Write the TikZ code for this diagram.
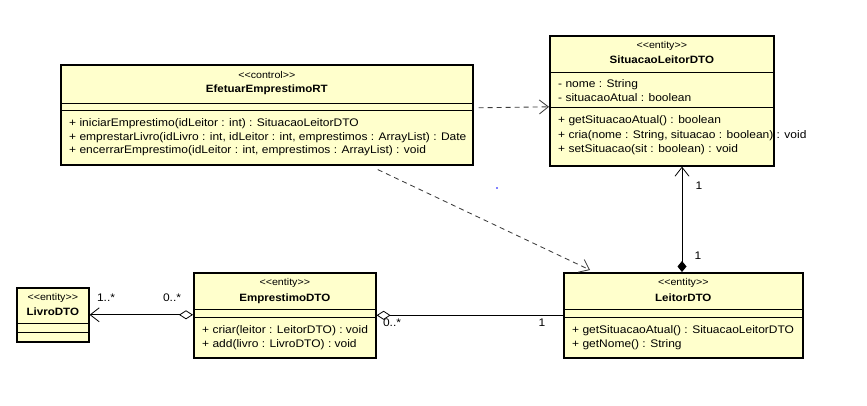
\documentclass[tikz,border=0pt]{standalone}
\usepackage{fontspec}
\setmainfont{Liberation Sans}
\newfontfamily\umlfont[FakeStretch=1.09]{Liberation Sans}
\usetikzlibrary{arrows.meta,calc}
\definecolor{classfill}{RGB}{255,255,204}
\definecolor{linegray}{RGB}{60,60,60}

% horizontal compartment rule inside a class box, #2 pt below its top edge
\newcommand\classrule[2]{\draw[sep] ($(#1.north west)+(0,#2)$) -- ($(#1.north east)+(0,#2)$);}

\begin{document}
\begin{tikzpicture}[x=1pt,y=-1pt,
  classbox/.style={draw=black,line width=1.6pt,fill=classfill,inner sep=0,anchor=north west},
  sep/.style={draw=black,line width=0.9pt},
  stereo/.style={font=\umlfont\fontsize{9.8}{11}\selectfont,inner sep=0,text height=7pt,text depth=2pt},
  cname/.style={font=\umlfont\bfseries\fontsize{10.6}{12}\selectfont,inner sep=0,text height=8pt,text depth=2pt},
  member/.style={font=\umlfont\fontsize{11}{13}\selectfont,inner sep=0,anchor=west,text height=8pt,text depth=2pt},
  mult/.style={font=\umlfont\fontsize{11}{13}\selectfont,inner sep=0,text height=8pt,text depth=2pt},
  dep/.style={draw=linegray,line width=0.85pt,dash pattern=on 5pt off 4pt,-{Straight Barb[length=9pt,width=14pt]}},
  assoc/.style={draw=black,line width=0.8pt},
]
\useasboundingbox (0,0) rectangle (867,406);

% ---------- EfetuarEmprestimoRT ----------
\node[classbox,minimum width=412pt,minimum height=100pt] (efet) at (60,64) {};
\node[stereo] (efetS) at ($(efet.north)+(0,12)$) {<<control>>};
\node[cname] (efetN) at ($(efet.north)+(0,26)$) {EfetuarEmprestimoRT};
\classrule{efet}{39}
\classrule{efet}{46}
\node[member] (efetM1) at ($(efet.north west)+(9,60)$) {+ iniciarEmprestimo(idLeitor : int) : SituacaoLeitorDTO};
\node[member] (efetM2) at ($(efet.north west)+(9,73.5)$) {+ emprestarLivro(idLivro : int, idLeitor : int, emprestimos : ArrayList) : Date};
\node[member] (efetM3) at ($(efet.north west)+(9,87)$) {+ encerrarEmprestimo(idLeitor : int, emprestimos : ArrayList) : void};

% ---------- SituacaoLeitorDTO ----------
\node[classbox,minimum width=224pt,minimum height=130pt] (sit) at (549,35) {};
\node[stereo] (sitS) at ($(sit.north)+(0,11)$) {<<entity>>};
\node[cname] (sitN) at ($(sit.north)+(0,26)$) {SituacaoLeitorDTO};
\classrule{sit}{37}
\node[member] (sitA1) at ($(sit.north west)+(9,50)$) {- nome : String};
\node[member] (sitA2) at ($(sit.north west)+(9,64)$) {- situacaoAtual : boolean};
\classrule{sit}{72}
\node[member] (sitM1) at ($(sit.north west)+(9,86)$) {+ getSituacaoAtual() : boolean};
\node[member] (sitM2) at ($(sit.north west)+(9,100.5)$) {+ cria(nome : String, situacao : boolean) : void};
\node[member] (sitM3) at ($(sit.north west)+(9,115)$) {+ setSituacao(sit : boolean) : void};

% ---------- LivroDTO ----------
\node[classbox,minimum width=72pt,minimum height=54pt] (livro) at (16,287) {};
\node[stereo] (livroS) at ($(livro.north)+(0,11)$) {<<entity>>};
\node[cname] (livroN) at ($(livro.north)+(0,25)$) {LivroDTO};
\classrule{livro}{36}
\classrule{livro}{45}

% ---------- EmprestimoDTO ----------
\node[classbox,minimum width=182pt,minimum height=85pt] (emp) at (193,272) {};
\node[stereo] (empS) at ($(emp.north)+(0,11)$) {<<entity>>};
\node[cname] (empN) at ($(emp.north)+(0,26)$) {EmprestimoDTO};
\classrule{emp}{37}
\classrule{emp}{45}
\node[member] (empM1) at ($(emp.north west)+(9,58)$) {+ criar(leitor : LeitorDTO) : void};
\node[member] (empM2) at ($(emp.north west)+(9,72)$) {+ add(livro : LivroDTO) : void};

% ---------- LeitorDTO ----------
\node[classbox,minimum width=239pt,minimum height=85pt] (leit) at (563,272) {};
\node[stereo] (leitS) at ($(leit.north)+(0,11)$) {<<entity>>};
\node[cname] (leitN) at ($(leit.north)+(0,26)$) {LeitorDTO};
\classrule{leit}{37}
\classrule{leit}{45}
\node[member] (leitM1) at ($(leit.north west)+(9,58)$) {+ getSituacaoAtual() : SituacaoLeitorDTO};
\node[member] (leitM2) at ($(leit.north west)+(9,72)$) {+ getNome() : String};

% ---------- dependencies ----------
\draw[dep] ($(efet.east)+(5,-7)$) -- ($(sit.west)+(0,6)$);
\draw[dep] ($(efet.south)+(111,4)$) -- ($(leit.north west)+(27,-2)$);

% ---------- composition LeitorDTO -> SituacaoLeitorDTO ----------
\draw[assoc,{Diamond[length=11pt,width=9pt]}-{Straight Barb[length=9pt,width=14pt]}]
  ($(leit.north west)+(119,0)$) -- ($(sit.south west)+(133,0)$);
\node[mult] (mSit) at ($(sit.south west)+(150,20)$) {1};
\node[mult] (mLeitTop) at ($(leit.north west)+(135,-16)$) {1};

% ---------- aggregation EmprestimoDTO -> LivroDTO ----------
\draw[assoc,{Diamond[open,length=14pt,width=9pt]}-{Straight Barb[length=9pt,width=14pt]}]
  (emp.west |- livro.east) -- (livro.east);
\node[mult] (mLivro) at (106,298) {1..*};
\node[mult] (mEmpL) at (172,298) {0..*};

% ---------- aggregation EmprestimoDTO -- LeitorDTO ----------
\draw[assoc,{Diamond[open,length=14pt,width=9pt]}-] (emp.east) -- (leit.west);
\node[mult] (mEmpR) at (392,323) {0..*};
\node[mult] (mLeitL) at (542,323) {1};

% small stray mark
\fill[blue] (497,188) circle (0.8);
\end{tikzpicture}
\end{document}
